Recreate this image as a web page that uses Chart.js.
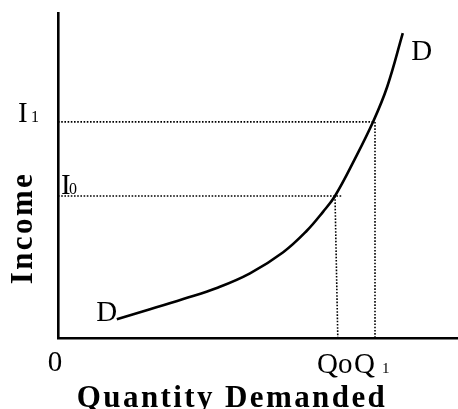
<!DOCTYPE html>
<html><head><meta charset="utf-8">
<script src="https://cdn.jsdelivr.net/npm/chart.js@4"></script>
<style>html,body{margin:0;padding:0;background:#fff;overflow:hidden}canvas{display:block}</style>
</head><body>
<canvas id="c" width="458" height="409" style="width:458px;height:409px"></canvas>
<script>
// Demand curve (Engel-type) — quantity demanded vs income
const curveQ = [14.7, 23.0, 31.3, 39.7, 48.0, 56.3, 62.2, 66.3, 69.25, 74.1, 78.8, 82.3, 86.2];
const curveI = [5.75, 8.83, 12.0, 15.4, 19.9, 26.4, 33.0, 38.9, 43.7, 54.8, 66.6, 77.3, 93.8];
// Reference levels
const incomeLevels = [43.7, 66.5];      // I0, I1
const quantityLevels = [69.75, 79.25];  // Q0, Q1
const incomeNames = ['I', 'I'];
const incomeSubs = ['0', '1'];
const quantityNames = ['Qo', 'Q'];
const quantitySubs = ['', '1'];
const originLabel = '0';
const curveLabel = 'D';
const xTitle = 'Quantity Demanded';
const yTitle = 'Income';

const SERIF = '"Liberation Serif", "Times New Roman", serif';
const dotted = {borderColor:'#000', borderWidth:1.6, borderDash:[1.6,1.6], pointRadius:0, fill:false, tension:0};

const datasets = [
  Object.assign({data:[{x:0,y:incomeLevels[0]},{x:quantityLevels[0]+1.2,y:incomeLevels[0]}]}, dotted),
  Object.assign({data:[{x:quantityLevels[0]-0.5,y:incomeLevels[0]},{x:quantityLevels[0]+0.2,y:0}]}, dotted),
  Object.assign({data:[{x:0,y:incomeLevels[1]},{x:quantityLevels[1],y:incomeLevels[1]}]}, dotted),
  Object.assign({data:[{x:quantityLevels[1],y:incomeLevels[1]},{x:quantityLevels[1],y:0}]}, dotted),
  {data: curveQ.map((q,i)=>({x:q,y:curveI[i]})), borderColor:'#000', borderWidth:2.6,
   pointRadius:0, fill:false, tension:0.4}
];

const textPlugin = {
  id:'texts',
  afterDraw(chart){
    const ctx = chart.ctx, xs = chart.scales.x, ys = chart.scales.y;
    ctx.save();
    ctx.fillStyle = '#000';
    ctx.textBaseline = 'alphabetic';
    const big = '29px ' + SERIF, small = '16px ' + SERIF;
    // income labels
    const i0y = ys.getPixelForValue(incomeLevels[0]);
    const i1y = ys.getPixelForValue(incomeLevels[1]);
    const x0 = xs.getPixelForValue(0);
    ctx.textAlign = 'left';
    ctx.font = big; ctx.fillText(incomeNames[1], x0 - 40, i1y);
    ctx.font = small; ctx.fillText(incomeSubs[1], x0 - 27, i1y);
    ctx.font = big; ctx.fillText(incomeNames[0], x0 + 3, i0y - 2);
    ctx.font = small; ctx.fillText(incomeSubs[0], x0 + 11, i0y - 2);
    // curve labels
    const n = curveQ.length;
    const topX = xs.getPixelForValue(curveQ[n-1]), topY = ys.getPixelForValue(curveI[n-1]);
    const botX = xs.getPixelForValue(curveQ[0]), botY = ys.getPixelForValue(curveI[0]);
    ctx.font = big; ctx.textAlign = 'center';
    ctx.fillText(curveLabel, topX + 19, topY + 27);
    ctx.fillText(curveLabel, botX - 10, botY + 2);
    // x tick labels
    const base = ys.getPixelForValue(0) + 35;
    ctx.fillText(originLabel, x0 - 3, base - 2);
    ctx.textAlign = 'left';
    const q0x = xs.getPixelForValue(quantityLevels[0]);
    const q1x = xs.getPixelForValue(quantityLevels[1]);
    ctx.font = big;
    ctx.fillText(quantityNames[0], q0x - 20, base);
    ctx.fillText(quantityNames[1], q1x - 21, base);
    ctx.font = '15px ' + SERIF;
    ctx.fillText(quantitySubs[1], q1x + 7, base);
    // axis titles
    ctx.font = 'bold 31px ' + SERIF;
    ctx.letterSpacing = '2.4px';
    ctx.textAlign = 'center';
    ctx.fillText(xTitle, 232, 407);
    ctx.save();
    ctx.translate(32, 228);
    ctx.rotate(-Math.PI/2);
    ctx.fillText(yTitle, 0, 0);
    ctx.restore();
    ctx.restore();
  }
};

new Chart(document.getElementById('c'), {
  type:'line',
  data:{datasets},
  options:{
    responsive:false, animation:false, devicePixelRatio:1,
    layout:{padding:{top:13,right:0,left:0,bottom:0}},
    plugins:{legend:{display:false}, tooltip:{enabled:false}},
    scales:{
      x:{type:'linear', min:0, max:100,
         grid:{display:false, drawTicks:false},
         border:{display:true, color:'#000', width:2.6},
         ticks:{display:false},
         afterFit(s){ s.height = 71; }},
      y:{type:'linear', min:0, max:100,
         grid:{display:false, drawTicks:false},
         border:{display:true, color:'#000', width:2.6},
         ticks:{display:false},
         afterFit(s){ s.width = 58; }}
    }
  },
  plugins:[textPlugin]
});
</script>
</body></html>
